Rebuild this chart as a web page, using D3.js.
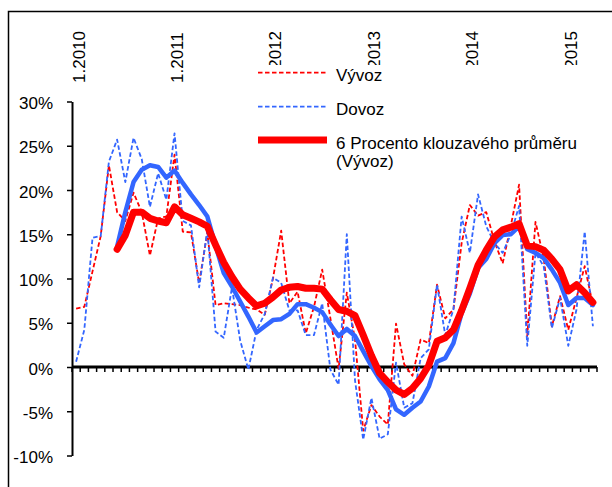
<!DOCTYPE html>
<html>
<head>
<meta charset="utf-8">
<script src="https://cdn.jsdelivr.net/npm/d3@7"></script>
<style>
	body { margin: 0; background: #fff; }
	text { font-family: "Liberation Sans", Arial, sans-serif; fill: #000; }
</style>
</head>
<body>
<script>

// monthly categories 1.2010 .. 4.2015
var months = d3.range(64).map(function(i){ return (i % 12 + 1) + "." + (2010 + Math.floor(i / 12)); });
var yearLabels = ["1.2010", "1.2011", "1.2012", "1.2013", "1.2014", "1.2015"];
var yTicks = [-10, -5, 0, 5, 10, 15, 20, 25, 30];

var vyvoz = [6.6, 6.8, 10.8, 14.8, 22.8, 17.5, 16.5, 19.7, 17.5, 12.6,
	16.8, 17.0, 24.0, 15.3, 15.2, 9.5, 15.2, 7.0, 7.2, 7.1,
	7.0, 6.7, 6.5, 5.9, 10.0, 15.4, 7.2, 8.5, 3.8, 6.8,
	11.0, 5.5, -0.2, 8.4, 3.1, -7.2, -4.3, -5.6, -6.5, 4.9,
	0.3, -1.0, 3.1, 2.7, 9.3, 5.5, 6.5, 14.0, 18.3, 17.1,
	17.5, 14.2, 11.7, 16.0, 20.6, 3.5, 16.4, 12.3, 4.6, 8.0,
	4.2, 7.8, 11.4, 7.0];

var dovoz = [0.6, 4.2, 14.6, 14.8, 23.2, 25.7, 20.9, 25.9, 23.5, 18.1,
	21.9, 18.9, 26.4, 16.5, 16.0, 9.0, 15.5, 4.0, 3.3, 9.0,
	3.0, -0.3, 4.2, 6.0, 10.1, 9.5, 6.4, 6.4, 3.6, 3.6,
	7.2, -0.3, -2.0, 15.0, -1.5, -8.2, -3.5, -8.1, -7.6, 0.5,
	-4.6, -4.1, 1.0, 2.0, 9.3, 3.6, 6.5, 17.0, 12.9, 19.5,
	15.9, 14.0, 12.9, 15.0, 18.2, 2.4, 12.9, 11.4, 4.4, 7.8,
	2.4, 6.5, 15.3, 4.6];

var vyvozAvg = [null, null, null, null, null, 13.3, 14.9, 17.5, 17.5, 16.8,
	16.5, 16.3, 18.1, 17.2, 16.8, 16.4, 15.9, 13.8, 11.8, 10.2,
	8.8, 7.8, 6.9, 7.2, 7.9, 8.7, 9.0, 9.1, 8.9, 8.9,
	8.8, 7.6, 6.5, 6.3, 5.8, 3.6, 1.3, -0.7, -1.7, -2.6,
	-3.1, -2.4, -1.3, 0.2, 2.9, 3.3, 4.2, 6.4, 8.9, 11.5,
	13.2, 14.7, 15.5, 15.8, 16.2, 13.7, 13.6, 13.2, 12.2, 11.0,
	8.6, 9.3, 8.4, 7.3];

var dovozAvg = [null, null, null, null, null, 13.6, 17.5, 20.9, 22.3, 22.8,
	22.6, 21.4, 22.2, 20.8, 19.5, 18.3, 17.0, 13.7, 10.6, 9.1,
	7.4, 5.7, 3.9, 4.6, 5.3, 5.4, 6.0, 7.1, 7.1, 6.7,
	6.2, 4.8, 3.5, 4.3, 3.5, 1.8, 0.1, -1.4, -2.6, -4.8,
	-5.4, -4.6, -3.9, -2.2, 0.6, 1.0, 2.7, 6.1, 8.3, 11.2,
	12.2, 14.0, 14.9, 15.0, 15.9, 13.3, 12.9, 12.3, 11.0, 9.5,
	7.0, 7.8, 7.8, 7.0];

var red = "#ff0000";
var blue = "#3366ff";

var svg = d3.select("body").append("svg")
	.attr("width", 612)
	.attr("height", 487);

// outer frame (runs off the right and bottom edges)
svg.append("rect")
	.attr("x", 8.5)
	.attr("y", 11.5)
	.attr("width", 640)
	.attr("height", 520)
	.attr("fill", "none")
	.attr("stroke", "#000")
	.attr("stroke-width", 1.5);

var x = d3.scaleBand()
	.domain(months)
	.range([72, 597]);

var y = d3.scaleLinear()
	.domain([-10, 30])
	.range([455.5, 101.5]);

function cx(i){ return x(months[i]) + x.bandwidth() / 2; }

// rotated year labels on top
svg.append("g")
	.selectAll("text")
	.data(yearLabels)
	.enter()
	.append("text")
	.attr("transform", function(d){ return "translate(" + cx(months.indexOf(d)) + ",83) rotate(-90)"; })
	.attr("dy", "0.5em")
	.style("font-size", "17px")
	.text(function(d){ return d; });

// y axis
var yAxis = svg.append("g")
	.attr("transform", "translate(72,0)")
	.call(d3.axisLeft(y)
		.tickValues(yTicks)
		.tickFormat(function(d){ return d + "%"; })
		.tickSize(5)
		.tickSizeOuter(0)
		.tickPadding(14));

yAxis.select(".domain")
	.attr("stroke", "#000")
	.attr("stroke-width", 2);
yAxis.selectAll(".tick line")
	.attr("stroke", "#000")
	.attr("stroke-width", 1.5);
yAxis.selectAll(".tick text")
	.attr("dy", "0.42em")
	.style("font-size", "17px")
	.style("font-family", "'Liberation Sans', Arial, sans-serif");

// x axis at zero with ticks between categories
var xAxis = svg.append("g");
var bounds = d3.range(months.length + 1).map(function(k){ return x.range()[0] + k * x.step(); });

xAxis.selectAll("line.tk")
	.data(bounds)
	.enter()
	.append("line")
	.attr("class", "tk")
	.attr("x1", function(d){ return d; })
	.attr("x2", function(d){ return d; })
	.attr("y1", y(0))
	.attr("y2", y(0) + 5)
	.attr("stroke", "#000")
	.attr("stroke-width", 1.5);

xAxis.append("line")
	.attr("x1", x.range()[0])
	.attr("x2", x.range()[1])
	.attr("y1", y(0))
	.attr("y2", y(0))
	.attr("stroke", "#000")
	.attr("stroke-width", 2.8);

var line = d3.line()
	.defined(function(d){ return d != null; })
	.x(function(d, i){ return cx(i); })
	.y(function(d){ return y(d); });

var series = [
	{ values: vyvoz, color: red, width: 1.8, dash: "4.5,2.5" },
	{ values: dovoz, color: blue, width: 1.8, dash: "4.5,2.5" },
	{ values: dovozAvg, color: blue, width: 4.5, dash: null },
	{ values: vyvozAvg, color: red, width: 7, dash: null }
];

svg.append("g")
	.selectAll("path")
	.data(series)
	.enter()
	.append("path")
	.attr("d", function(d){ return line(d.values); })
	.attr("fill", "none")
	.attr("stroke", function(d){ return d.color; })
	.attr("stroke-width", function(d){ return d.width; })
	.attr("stroke-dasharray", function(d){ return d.dash; })
	.attr("stroke-linejoin", "round")
	.attr("stroke-linecap", function(d){ return d.dash ? "butt" : "round"; });

// legend box covers the lower part of the later year labels
var legend = svg.append("g");

legend.append("rect")
	.attr("x", 250)
	.attr("y", 65)
	.attr("width", 350)
	.attr("height", 112)
	.attr("fill", "#fff");

var legendItems = [
	{ label: ["Vývoz"], color: red, width: 1.8, dash: "4.5,2.5", ly: 72.7 },
	{ label: ["Dovoz"], color: blue, width: 1.8, dash: "4.5,2.5", ly: 106.7 },
	{ label: ["6 Procento klouzavého průměru", "(Vývoz)"], color: red, width: 7, dash: null, ly: 140 }
];

var item = legend.selectAll("g.item")
	.data(legendItems)
	.enter()
	.append("g")
	.attr("class", "item");

item.append("line")
	.attr("x1", 258)
	.attr("x2", 327)
	.attr("y1", function(d){ return d.ly; })
	.attr("y2", function(d){ return d.ly; })
	.attr("stroke", function(d){ return d.color; })
	.attr("stroke-width", function(d){ return d.width; })
	.attr("stroke-dasharray", function(d){ return d.dash; });

item.each(function(d){
	var t = d3.select(this).append("text")
		.attr("x", 336)
		.attr("y", d.ly + 8.6)
		.style("font-size", "17px");
	d.label.forEach(function(s, k){
		t.append("tspan")
			.attr("x", 336)
			.attr("dy", k == 0 ? 0 : 18.4)
			.text(s);
	});
});

</script>
</body>
</html>
